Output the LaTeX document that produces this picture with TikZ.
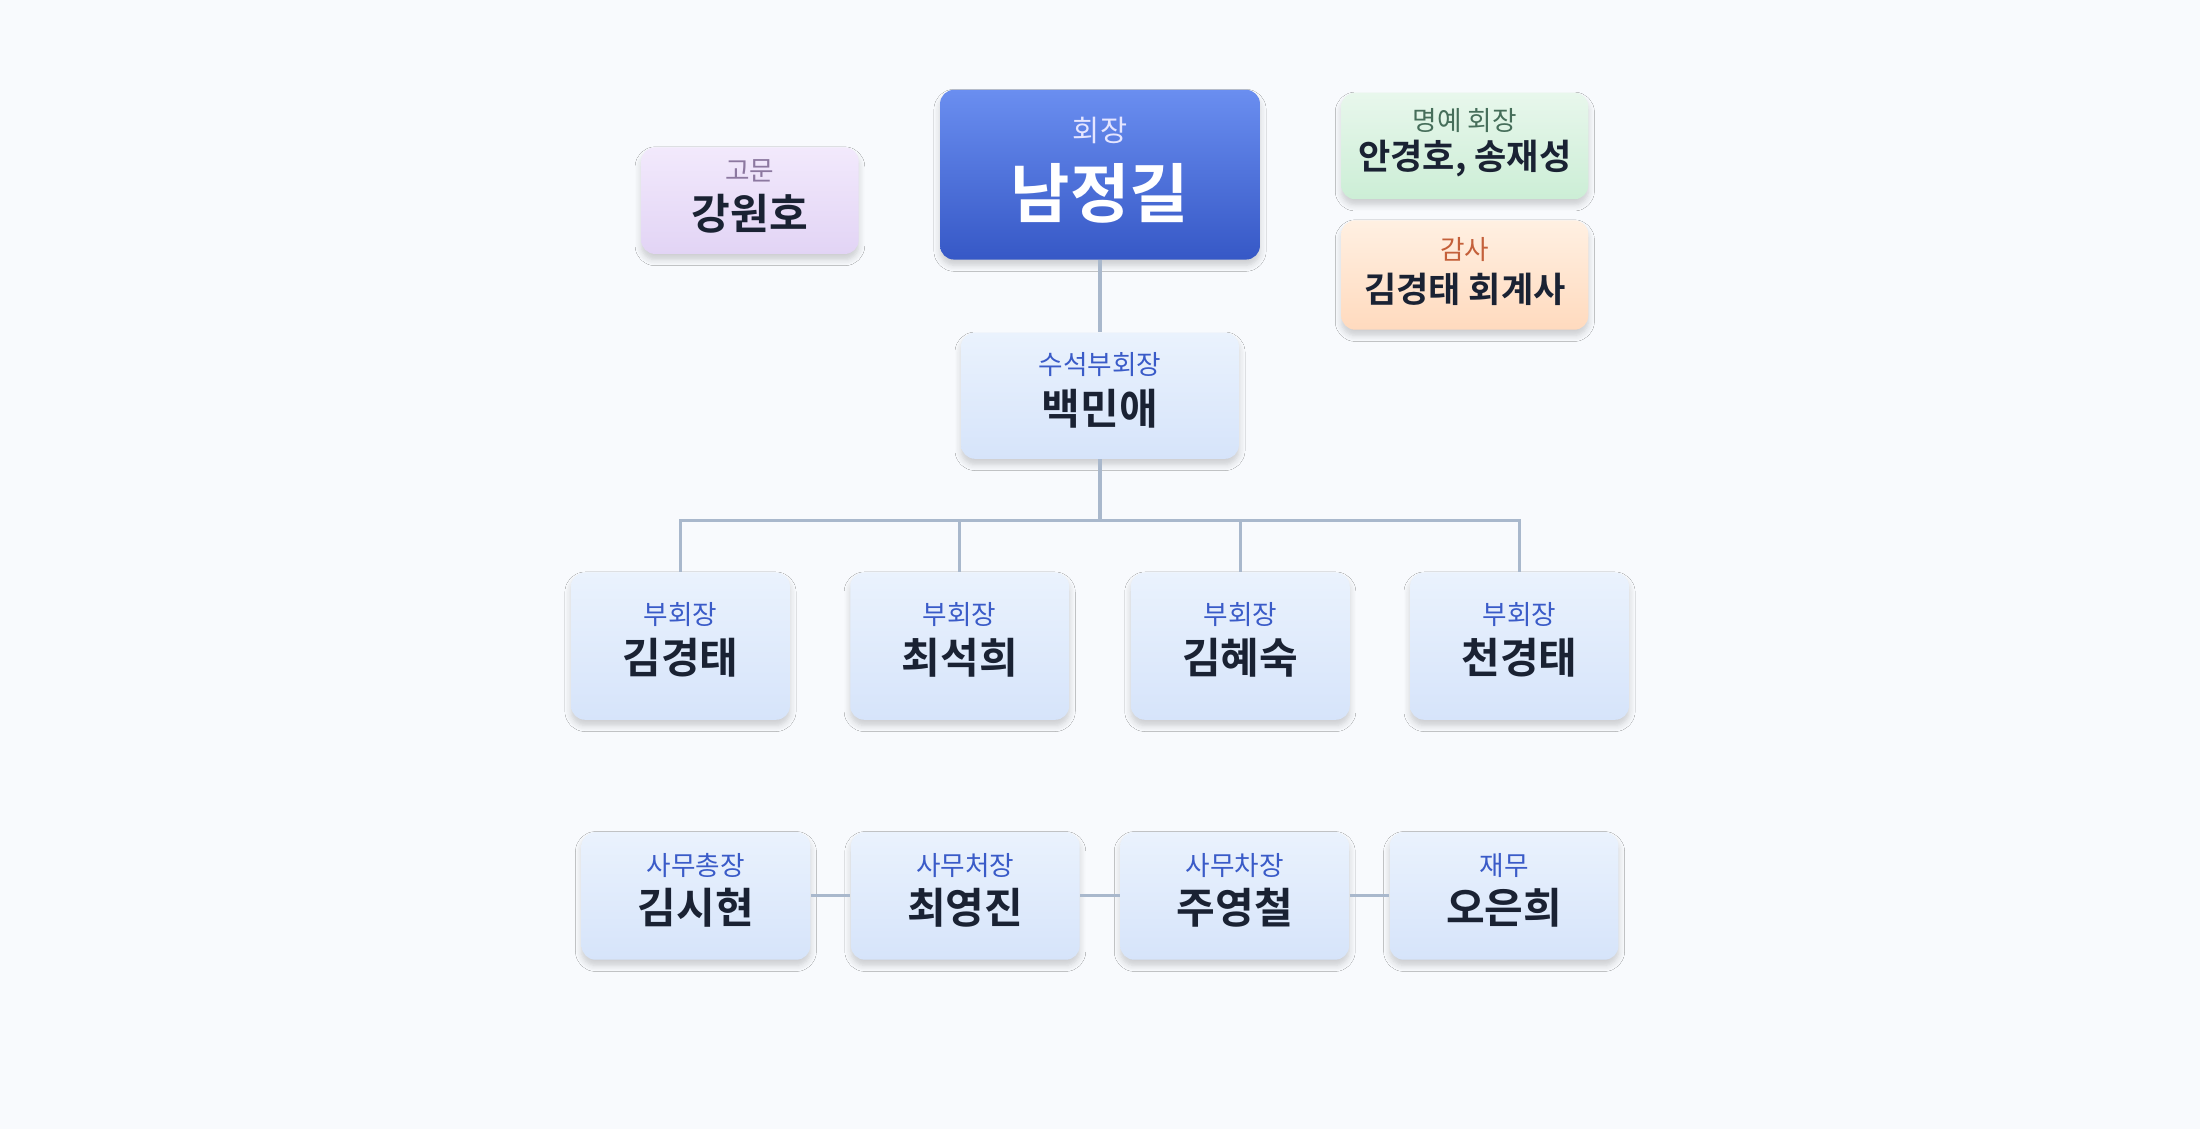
\documentclass[tikz,border=0pt]{standalone}
\usepackage{fontspec}
\setmainfont{Noto Sans CJK KR}
\newfontfamily\kb{Noto Sans CJK KR Bold}
\usetikzlibrary{shadows.blur}
\definecolor{bg}{HTML}{F8FAFD}
\definecolor{ln}{HTML}{A9B8CC}
\definecolor{dk}{HTML}{1A2233}
\definecolor{lb}{HTML}{3A5BC8}
\tikzset{x=0.5pt,y=-0.5pt,
 card/.style={rounded corners=5pt,blur shadow={shadow blur steps=6,shadow xshift=0pt,shadow yshift=-2pt,shadow opacity=18},inner sep=0pt},
 blu/.style={card,top color=blue!6!white,bottom color=blue!14!white,top color={rgb,255:red,234;green,242;blue,253},bottom color={rgb,255:red,214;green,228;blue,250}},
 conn/.style={draw=ln,line width=1.1pt},
 lab/.style={font=\fontsize{9.5}{11}\selectfont,text=lb},
 nm/.style={font=\kb\fontsize{15}{18}\selectfont,text=dk}}
\begin{document}
\begin{tikzpicture}
\fill[bg] (0,0) rectangle (1568,805);
\useasboundingbox (0,0) rectangle (1568,805);
% chairman
\node[card,minimum width=114pt,minimum height=60.5pt,top color={rgb,255:red,106;green,142;blue,240},bottom color={rgb,255:red,54;green,88;blue,198}] (ch) at (784,124.5) {};
\node[font=\fontsize{10.5}{12}\selectfont,text=white!90!blue] at (784,93) {회장};
\node[font=\kb\fontsize{23}{26}\selectfont,text=white] at (784,138) {남정길};
% advisor
\node[card,minimum width=77.5pt,minimum height=38pt,top color={rgb,255:red,242;green,233;blue,252},bottom color={rgb,255:red,226;green,212;blue,245}] (ad) at (534.5,143) {};
\node[font=\fontsize{9.5}{11}\selectfont,text={rgb,255:red,140;green,120;blue,160}] at (534.5,122) {고문};
\node[nm] at (534.5,152) {강원호};
% honorary
\node[card,minimum width=88pt,minimum height=38pt,top color={rgb,255:red,232;green,247;blue,236},bottom color={rgb,255:red,204;green,238;blue,214}] (ho) at (1044,104) {};
\node[font=\fontsize{9.5}{11}\selectfont,text={rgb,255:red,70;green,110;blue,90}] at (1044,86) {명예 회장};
\node[font=\kb\fontsize{12.5}{15}\selectfont,text=dk] at (1044,113) {안경호, 송재성};
% auditor
\node[card,minimum width=88pt,minimum height=39pt,top color={rgb,255:red,255;green,240;blue,226},bottom color={rgb,255:red,255;green,218;blue,190}] (au) at (1044,196) {};
\node[font=\fontsize{9.5}{11}\selectfont,text={rgb,255:red,196;green,96;blue,58}] at (1044,178) {감사};
\node[font=\kb\fontsize{12.5}{15}\selectfont,text=dk] at (1044,206) {김경태 회계사};
% senior vp
\node[blu,minimum width=99pt,minimum height=45pt] (sv) at (784,282) {};
\node[lab] at (784,260) {수석부회장};
\node[nm] at (784,291) {백민애};
\draw[conn] (ch.south) -- (sv.north);
% vps
\foreach \x/\n/\i in {485/김경태/1,684/최석희/2,884/김혜숙/3,1083/천경태/4}{
 \node[blu,minimum width=78pt,minimum height=52.5pt] (v\i) at (\x,460.5) {};
 \node[lab] at (\x,438) {부회장};
 \node[nm] at (\x,469) {\n};
}
\coordinate (j) at (784,371);
\draw[conn] (sv.south) -- (j);
\draw[conn] (v1.north) |- (j) -| (v4.north);
\draw[conn] (v2.north) -- (684,371);
\draw[conn] (v3.north) -- (884,371);
% bottom
\foreach \x/\l/\n/\i in {496/사무총장/김시현/1,688/사무처장/최영진/2,880/사무차장/주영철/3,1072/재무/오은희/4}{
 \node[blu,minimum width=81.5pt,minimum height=45.5pt] (b\i) at (\x,638.5) {};
 \node[lab] at (\x,617) {\l};
 \node[nm] at (\x,647) {\n};
}
\draw[conn] (b1.east) -- (b2.west);
\draw[conn] (b2.east) -- (b3.west);
\draw[conn] (b3.east) -- (b4.west);
\end{tikzpicture}
\end{document}
